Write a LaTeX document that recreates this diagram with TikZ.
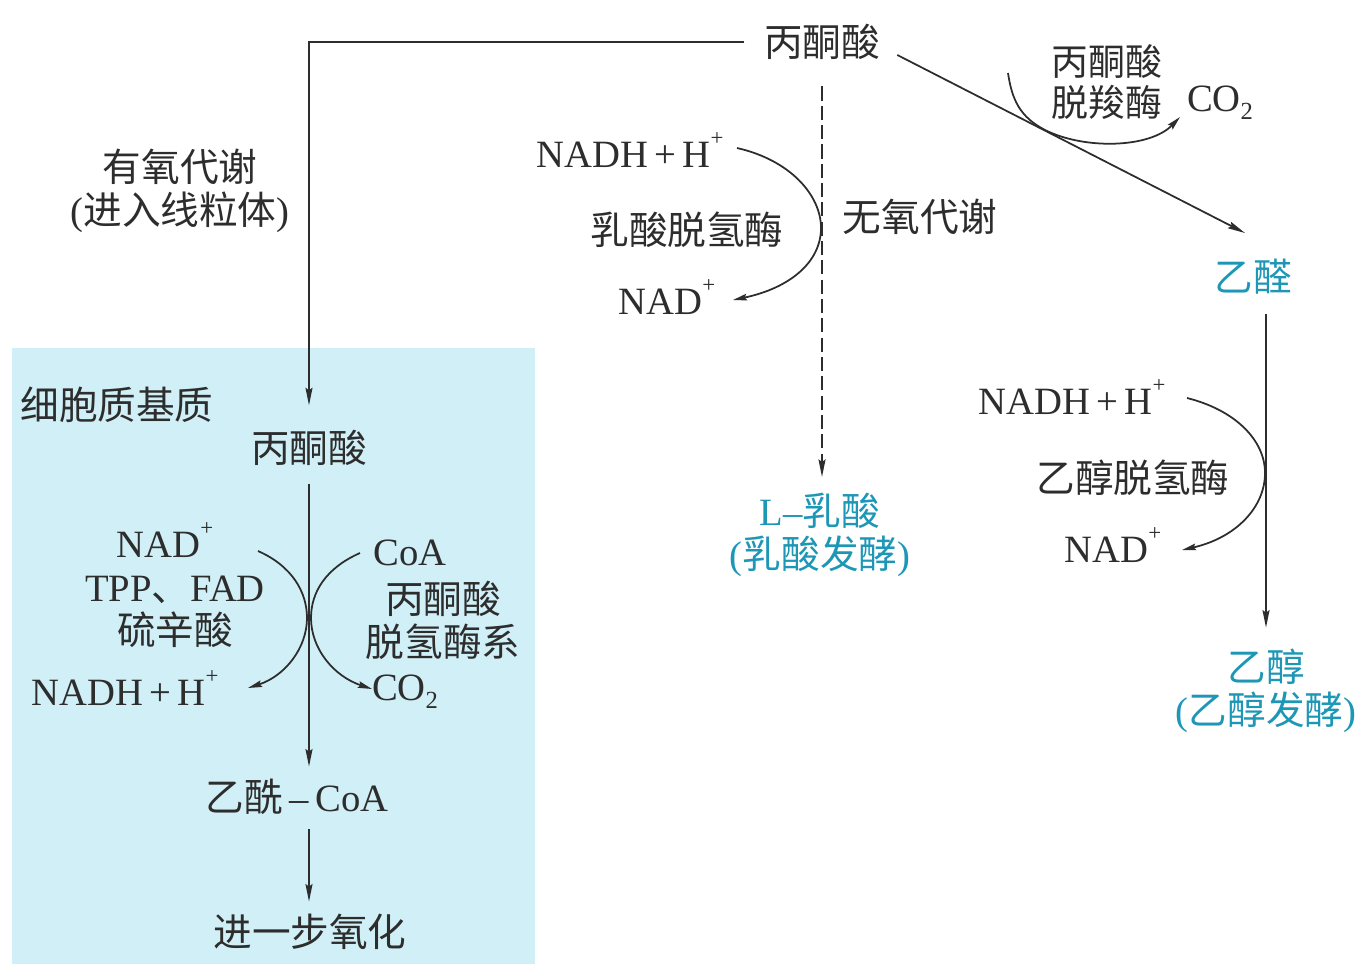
\documentclass[tikz,border=0pt]{standalone}
\usepackage{fontspec}
\setmainfont{Liberation Serif}
\newfontfamily\cjk{Noto Sans CJK SC}
\usepackage{tikz}
\usetikzlibrary{arrows.meta}
\usetikzlibrary{positioning}
\usetikzlibrary{calc}
\definecolor{cytoBlue}{RGB}{208,239,246}
\definecolor{fermCyan}{RGB}{30,150,182}
\definecolor{inkGray}{RGB}{45,45,45}
\newcommand{\zh}[1]{{\cjk #1}}
\newcommand{\supplus}{\raisebox{1.2ex}{\fontsize{13}{13}\selectfont +}}
\newcommand{\nadh}{NADH\,+\,H\supplus}
\newcommand{\nad}{NAD\supplus}
\newcommand{\cotwo}{CO\raisebox{-0.45ex}{\fontsize{14}{14}\selectfont 2}}

\begin{document}
\begin{tikzpicture}[x=0.02cm, y=-0.02cm,
    every node/.style={inner sep=0pt, text=inkGray, align=center,
      font=\fontsize{22}{24.5}\selectfont},
    flow/.style={draw=inkGray, line width=1pt,
      -{Stealth[length=10pt,width=4pt,inset=1.5pt]}},
    side/.style={draw=inkGray, line width=1pt,
      -{Stealth[length=8pt,width=3.8pt,inset=1.2pt]}},
    ferm/.style={text=fermCyan}]
	% The frame:
	\useasboundingbox (0,0) rectangle (1369,964);
	\fill[cytoBlue] (12,348) rectangle (535,964);
	% Substrates:
	\path
		(822,42) node (pyrTop) {\zh{丙酮酸}}
		(309,448) node (pyrLow) {\zh{丙酮酸}}
		(297,797) node (acetyl) {\zh{乙酰}\,--\,CoA}
		(310,932) node (further) {\zh{进一步氧化}}
		(1253,277) node[ferm] (acetald) {\zh{乙醛}}
		(820,535) node[ferm] (lactate) {L--\zh{乳酸}\\(\zh{乳酸发酵})}
		(1266,691) node[ferm] (ethanol) {\zh{乙醇}\\(\zh{乙醇发酵})};
	% Cofactors and enzymes:
	\path
		(165,540) node (nadL) {\nad}
		(175,612) node (tppL) {TPP\zh{、}FAD\\\zh{硫辛酸}}
		(125,688) node (nadhL) {\nadh}
		(410,553) node (coaR) {CoA}
		(443,620) node (pdh) {\zh{丙酮酸}\\\zh{脱氢酶系}}
		(405,692) node (co2L) {\cotwo}
		(630,150) node (nadhM) {\nadh}
		(687,230) node (ldh) {\zh{乳酸脱氢酶}}
		(667,297) node (nadM) {\nad}
		(1107,82) node[font=\fontsize{21}{23}\selectfont] (pdc) {\zh{丙酮酸}\\\zh{脱羧酶}}
		(1220,103) node (co2R) {\cotwo}
		(1072,397) node (nadhR) {\nadh}
		(1133,478) node (adh) {\zh{乙醇脱氢酶}}
		(1113,545) node (nadR) {\nad};
	% Labels:
	\path
		(180,191) node (aerobic) {\zh{有氧代谢}\\(\zh{进入线粒体})}
		(20,405) node[anchor=west] (cyto) {\zh{细胞质基质}}
		(920,217) node (anaerobic) {\zh{无氧代谢}};
	% Main pathways:
	\draw[flow, shorten <=11pt, shorten >=14pt] (pyrTop.west) -| (pyrLow.north);
	\draw[flow, shorten <=10pt, shorten >=7pt] (pyrLow.south) -- (pyrLow.south |- acetyl.north);
	\draw[flow, shorten <=8pt, shorten >=7pt] (pyrLow.south |- acetyl.south) -- (pyrLow.south |- further.north);
	\draw[flow, dash pattern=on 8pt off 3pt, shorten <=15pt, shorten >=9pt] (pyrTop.south) -- (pyrTop.south |- lactate.north);
	\draw[flow] ([shift={(17,13)}]pyrTop.east) -- ([shift={(-8,-26)}]acetald.north);
	\draw[flow, shorten <=11pt, shorten >=12pt] (ethanol.north |- acetald.south) -- (ethanol.north);
	% Side reactions:
	\coordinate (pdhInL) at (258,551);
	\coordinate (pdhOutL) at (248,688);
	\coordinate (pdhInR) at (360,553);
	\coordinate (pdhOutR) at (372,689);
	\coordinate (ldhIn) at (737,148);
	\coordinate (ldhOut) at (733,300);
	\coordinate (adhIn) at (1187,398);
	\coordinate (adhOut) at (1182,550);
	\coordinate (pdcIn) at (1008,73);
	\coordinate (pdcOut) at (1180,117);
	\draw[side] (pdhInL) .. controls (292,566) and (307,592) .. (307,618)
		.. controls (307,648) and (285,676) .. (pdhOutL);
	\draw[side] (pdhInR) .. controls (326,568) and (311,592) .. (311,618)
		.. controls (311,648) and (333,676) .. (pdhOutR);
	\draw[side] (ldhIn) .. controls (790,160) and (821,195) .. (821,228)
		.. controls (821,262) and (790,288) .. (ldhOut);
	\draw[side] (adhIn) .. controls (1235,410) and (1265,440) .. (1265,473)
		.. controls (1265,508) and (1235,538) .. (adhOut);
	\draw[side] (pdcIn) .. controls (1012,100) and (1020,117) .. (1045,130)
		.. controls (1085,150) and (1150,148) .. (pdcOut);
\end{tikzpicture}
\end{document}
